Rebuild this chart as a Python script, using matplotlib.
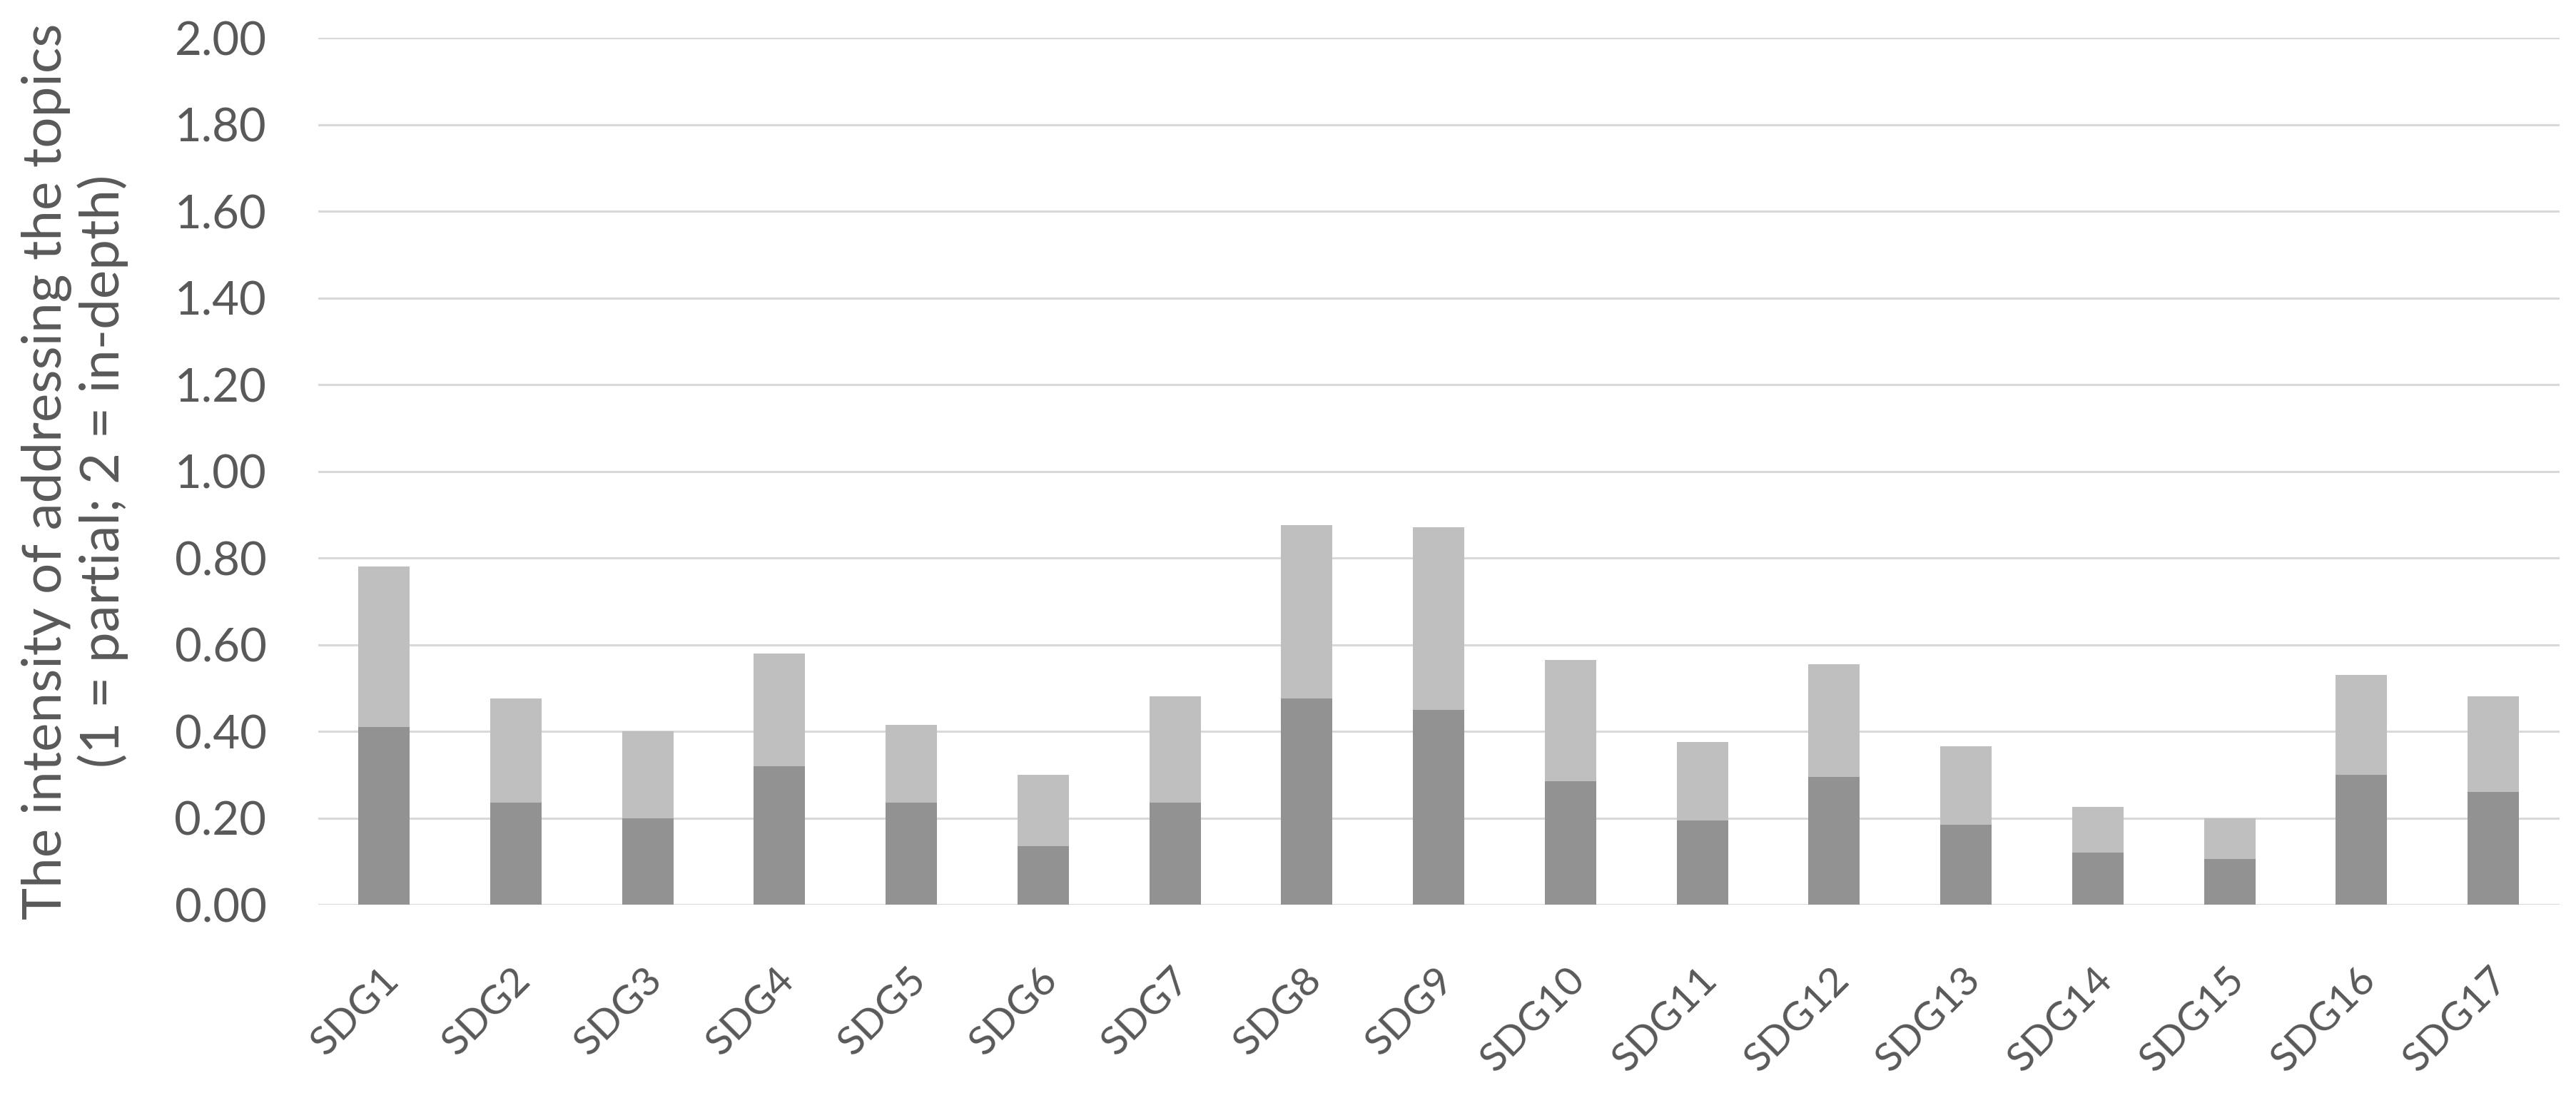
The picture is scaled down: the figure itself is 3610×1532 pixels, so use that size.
import matplotlib.pyplot as plt
import matplotlib.transforms as mtransforms
import numpy as np

categories = ["SDG%d" % i for i in range(1, 18)]
in_depth = [0.41, 0.235, 0.20, 0.32, 0.235, 0.135, 0.235, 0.475, 0.45, 0.285,
            0.195, 0.295, 0.185, 0.12, 0.105, 0.30, 0.26]
partial = [0.37, 0.24, 0.20, 0.26, 0.18, 0.165, 0.245, 0.40, 0.42, 0.28,
           0.18, 0.26, 0.18, 0.105, 0.095, 0.23, 0.22]
yticks = [0.0, 0.2, 0.4, 0.6, 0.8, 1.0, 1.2, 1.4, 1.6, 1.8, 2.0]

plt.rcParams['font.family'] = ['Lato', 'DejaVu Sans']
txt = "#595959"

fig = plt.figure(figsize=(36.1, 15.32), dpi=100)
ax = fig.add_axes([0.1235, 0.1723, 0.87, 0.7931])

x = np.arange(len(categories))
ax.bar(x, in_depth, width=0.39, color="#929292", zorder=3)
ax.bar(x, partial, width=0.39, bottom=in_depth, color="#bfbfbf", zorder=3)

ax.set_xlim(-0.5, len(categories) - 0.5)
ax.set_ylim(0, 2.0)
ax.set_yticks(yticks)
ax.set_yticklabels(["%.2f" % v for v in yticks], fontsize=47, color=txt)
ax.set_xticks(x)
ax.set_xticklabels(categories, rotation=45, ha="right", va="center",
                   rotation_mode="anchor", fontsize=41, color=txt)
ax.tick_params(axis="x", length=0, pad=70)
ax.tick_params(axis="y", length=0, pad=52)
ax.grid(axis="y", color="#d9d9d9", linewidth=2.2, zorder=0)
for s in ax.spines.values():
    s.set_visible(False)

# nudge the slanted labels a little to the right, like the original
shift = mtransforms.ScaledTranslation(12 / 100, 0, fig.dpi_scale_trans)
for lab in ax.get_xticklabels():
    lab.set_transform(lab.get_transform() + shift)

fig.text(0.029, 0.569, "The intensity of addressing the topics\n(1 = partial; 2 = in-depth)",
         rotation=90, fontsize=55, color=txt, ha="center", va="center",
         multialignment="center", linespacing=1.12)

plt.savefig("out.png", dpi=100)
